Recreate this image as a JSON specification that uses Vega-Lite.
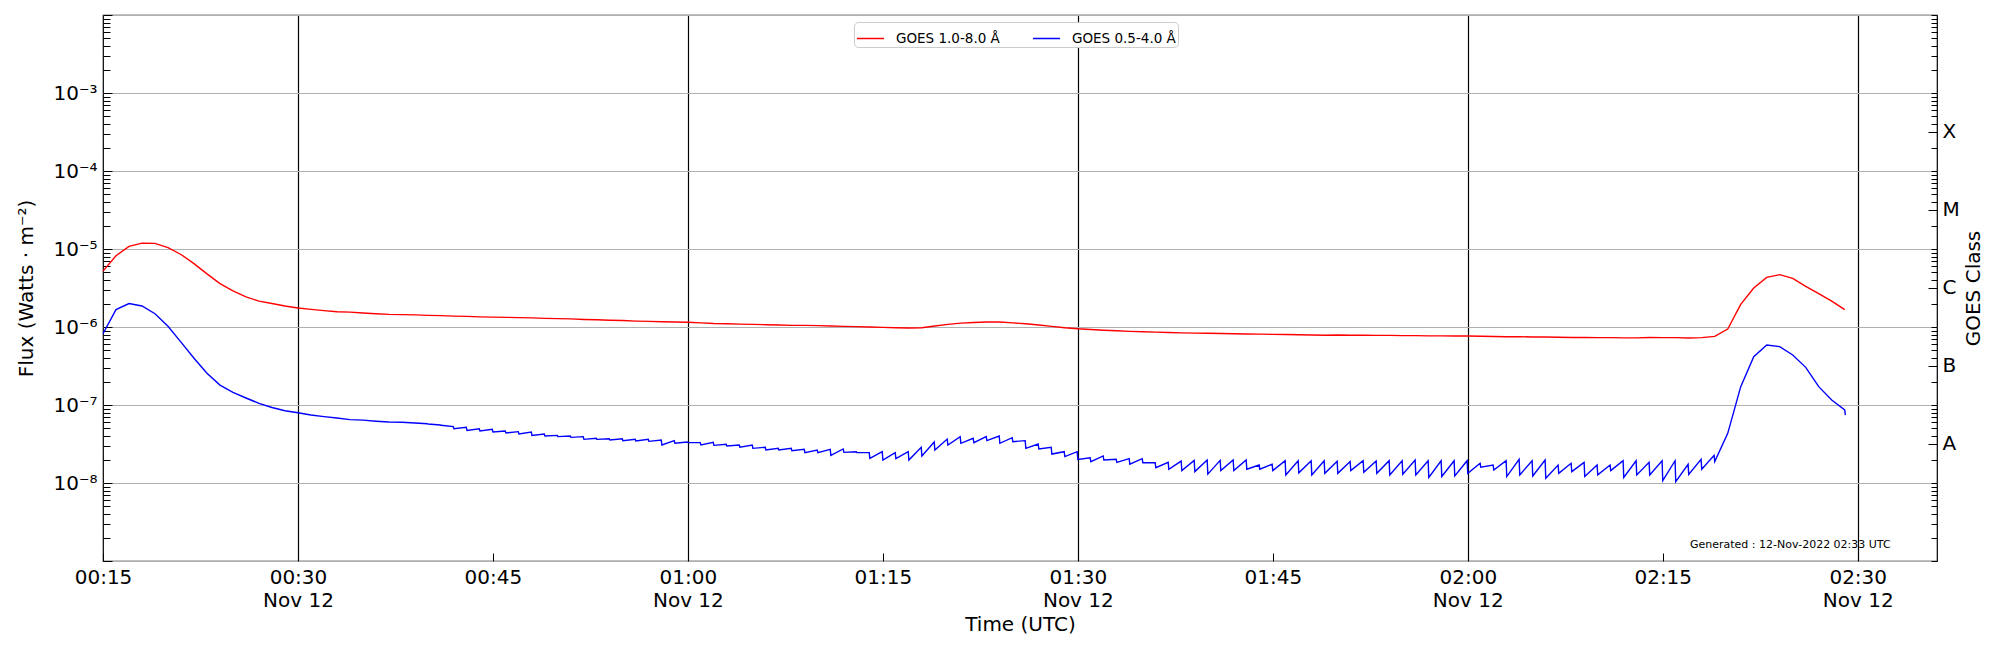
{
  "$schema": "https://vega.github.io/schema/vega-lite/v6.json",
  "width": 1834,
  "height": 546,
  "autosize": {"type": "none"},
  "padding": {"left": 103, "top": 15, "right": 63, "bottom": 89},
  "background": "white",
  "config": {
    "font": "DejaVu Sans",
    "view": {"stroke": "black", "strokeWidth": 1.2},
    "axis": {"domain": false, "labelColor": "black", "titleColor": "black", "tickColor": "black", "titleFontWeight": "normal", "labelFontSize": 20, "titleFontSize": 20, "labelOverlap": false, "labelFlush": false, "labelBound": false}
  },
  "layer": [
    {
      "data": {
        "values": [
          {"time": "2022-11-12T00:15:00Z", "flux": 5.2e-6, "channel": "GOES 1.0-8.0 Å"},
          {"time": "2022-11-12T00:16:00Z", "flux": 8.2e-6, "channel": "GOES 1.0-8.0 Å"},
          {"time": "2022-11-12T00:17:00Z", "flux": 1.08e-5, "channel": "GOES 1.0-8.0 Å"},
          {"time": "2022-11-12T00:18:00Z", "flux": 1.19e-5, "channel": "GOES 1.0-8.0 Å"},
          {"time": "2022-11-12T00:19:00Z", "flux": 1.18e-5, "channel": "GOES 1.0-8.0 Å"},
          {"time": "2022-11-12T00:20:00Z", "flux": 1.04e-5, "channel": "GOES 1.0-8.0 Å"},
          {"time": "2022-11-12T00:21:00Z", "flux": 8.5e-6, "channel": "GOES 1.0-8.0 Å"},
          {"time": "2022-11-12T00:22:00Z", "flux": 6.5e-6, "channel": "GOES 1.0-8.0 Å"},
          {"time": "2022-11-12T00:23:00Z", "flux": 4.8e-6, "channel": "GOES 1.0-8.0 Å"},
          {"time": "2022-11-12T00:24:00Z", "flux": 3.6e-6, "channel": "GOES 1.0-8.0 Å"},
          {"time": "2022-11-12T00:25:00Z", "flux": 2.9e-6, "channel": "GOES 1.0-8.0 Å"},
          {"time": "2022-11-12T00:26:00Z", "flux": 2.43e-6, "channel": "GOES 1.0-8.0 Å"},
          {"time": "2022-11-12T00:27:00Z", "flux": 2.15e-6, "channel": "GOES 1.0-8.0 Å"},
          {"time": "2022-11-12T00:28:00Z", "flux": 2.0e-6, "channel": "GOES 1.0-8.0 Å"},
          {"time": "2022-11-12T00:29:00Z", "flux": 1.86e-6, "channel": "GOES 1.0-8.0 Å"},
          {"time": "2022-11-12T00:30:00Z", "flux": 1.75e-6, "channel": "GOES 1.0-8.0 Å"},
          {"time": "2022-11-12T00:31:00Z", "flux": 1.68e-6, "channel": "GOES 1.0-8.0 Å"},
          {"time": "2022-11-12T00:32:00Z", "flux": 1.62e-6, "channel": "GOES 1.0-8.0 Å"},
          {"time": "2022-11-12T00:33:00Z", "flux": 1.57e-6, "channel": "GOES 1.0-8.0 Å"},
          {"time": "2022-11-12T00:34:00Z", "flux": 1.55e-6, "channel": "GOES 1.0-8.0 Å"},
          {"time": "2022-11-12T00:35:00Z", "flux": 1.51e-6, "channel": "GOES 1.0-8.0 Å"},
          {"time": "2022-11-12T00:36:00Z", "flux": 1.48e-6, "channel": "GOES 1.0-8.0 Å"},
          {"time": "2022-11-12T00:37:00Z", "flux": 1.45e-6, "channel": "GOES 1.0-8.0 Å"},
          {"time": "2022-11-12T00:38:00Z", "flux": 1.44e-6, "channel": "GOES 1.0-8.0 Å"},
          {"time": "2022-11-12T00:39:00Z", "flux": 1.43e-6, "channel": "GOES 1.0-8.0 Å"},
          {"time": "2022-11-12T00:40:00Z", "flux": 1.41e-6, "channel": "GOES 1.0-8.0 Å"},
          {"time": "2022-11-12T00:41:00Z", "flux": 1.40e-6, "channel": "GOES 1.0-8.0 Å"},
          {"time": "2022-11-12T00:42:00Z", "flux": 1.38e-6, "channel": "GOES 1.0-8.0 Å"},
          {"time": "2022-11-12T00:43:00Z", "flux": 1.37e-6, "channel": "GOES 1.0-8.0 Å"},
          {"time": "2022-11-12T00:44:00Z", "flux": 1.35e-6, "channel": "GOES 1.0-8.0 Å"},
          {"time": "2022-11-12T00:45:00Z", "flux": 1.34e-6, "channel": "GOES 1.0-8.0 Å"},
          {"time": "2022-11-12T00:46:00Z", "flux": 1.33e-6, "channel": "GOES 1.0-8.0 Å"},
          {"time": "2022-11-12T00:47:00Z", "flux": 1.32e-6, "channel": "GOES 1.0-8.0 Å"},
          {"time": "2022-11-12T00:48:00Z", "flux": 1.31e-6, "channel": "GOES 1.0-8.0 Å"},
          {"time": "2022-11-12T00:49:00Z", "flux": 1.29e-6, "channel": "GOES 1.0-8.0 Å"},
          {"time": "2022-11-12T00:50:00Z", "flux": 1.28e-6, "channel": "GOES 1.0-8.0 Å"},
          {"time": "2022-11-12T00:51:00Z", "flux": 1.27e-6, "channel": "GOES 1.0-8.0 Å"},
          {"time": "2022-11-12T00:52:00Z", "flux": 1.25e-6, "channel": "GOES 1.0-8.0 Å"},
          {"time": "2022-11-12T00:53:00Z", "flux": 1.24e-6, "channel": "GOES 1.0-8.0 Å"},
          {"time": "2022-11-12T00:54:00Z", "flux": 1.22e-6, "channel": "GOES 1.0-8.0 Å"},
          {"time": "2022-11-12T00:55:00Z", "flux": 1.21e-6, "channel": "GOES 1.0-8.0 Å"},
          {"time": "2022-11-12T00:56:00Z", "flux": 1.19e-6, "channel": "GOES 1.0-8.0 Å"},
          {"time": "2022-11-12T00:57:00Z", "flux": 1.18e-6, "channel": "GOES 1.0-8.0 Å"},
          {"time": "2022-11-12T00:58:00Z", "flux": 1.17e-6, "channel": "GOES 1.0-8.0 Å"},
          {"time": "2022-11-12T00:59:00Z", "flux": 1.16e-6, "channel": "GOES 1.0-8.0 Å"},
          {"time": "2022-11-12T01:00:00Z", "flux": 1.15e-6, "channel": "GOES 1.0-8.0 Å"},
          {"time": "2022-11-12T01:01:00Z", "flux": 1.13e-6, "channel": "GOES 1.0-8.0 Å"},
          {"time": "2022-11-12T01:02:00Z", "flux": 1.11e-6, "channel": "GOES 1.0-8.0 Å"},
          {"time": "2022-11-12T01:03:00Z", "flux": 1.10e-6, "channel": "GOES 1.0-8.0 Å"},
          {"time": "2022-11-12T01:04:00Z", "flux": 1.09e-6, "channel": "GOES 1.0-8.0 Å"},
          {"time": "2022-11-12T01:05:00Z", "flux": 1.08e-6, "channel": "GOES 1.0-8.0 Å"},
          {"time": "2022-11-12T01:06:00Z", "flux": 1.07e-6, "channel": "GOES 1.0-8.0 Å"},
          {"time": "2022-11-12T01:07:00Z", "flux": 1.06e-6, "channel": "GOES 1.0-8.0 Å"},
          {"time": "2022-11-12T01:08:00Z", "flux": 1.05e-6, "channel": "GOES 1.0-8.0 Å"},
          {"time": "2022-11-12T01:09:00Z", "flux": 1.05e-6, "channel": "GOES 1.0-8.0 Å"},
          {"time": "2022-11-12T01:10:00Z", "flux": 1.04e-6, "channel": "GOES 1.0-8.0 Å"},
          {"time": "2022-11-12T01:11:00Z", "flux": 1.03e-6, "channel": "GOES 1.0-8.0 Å"},
          {"time": "2022-11-12T01:12:00Z", "flux": 1.02e-6, "channel": "GOES 1.0-8.0 Å"},
          {"time": "2022-11-12T01:13:00Z", "flux": 1.01e-6, "channel": "GOES 1.0-8.0 Å"},
          {"time": "2022-11-12T01:14:00Z", "flux": 1.00e-6, "channel": "GOES 1.0-8.0 Å"},
          {"time": "2022-11-12T01:15:00Z", "flux": 9.9e-7, "channel": "GOES 1.0-8.0 Å"},
          {"time": "2022-11-12T01:16:00Z", "flux": 9.8e-7, "channel": "GOES 1.0-8.0 Å"},
          {"time": "2022-11-12T01:17:00Z", "flux": 9.7e-7, "channel": "GOES 1.0-8.0 Å"},
          {"time": "2022-11-12T01:18:00Z", "flux": 9.8e-7, "channel": "GOES 1.0-8.0 Å"},
          {"time": "2022-11-12T01:19:00Z", "flux": 1.03e-6, "channel": "GOES 1.0-8.0 Å"},
          {"time": "2022-11-12T01:20:00Z", "flux": 1.08e-6, "channel": "GOES 1.0-8.0 Å"},
          {"time": "2022-11-12T01:21:00Z", "flux": 1.12e-6, "channel": "GOES 1.0-8.0 Å"},
          {"time": "2022-11-12T01:22:00Z", "flux": 1.14e-6, "channel": "GOES 1.0-8.0 Å"},
          {"time": "2022-11-12T01:23:00Z", "flux": 1.16e-6, "channel": "GOES 1.0-8.0 Å"},
          {"time": "2022-11-12T01:24:00Z", "flux": 1.16e-6, "channel": "GOES 1.0-8.0 Å"},
          {"time": "2022-11-12T01:25:00Z", "flux": 1.13e-6, "channel": "GOES 1.0-8.0 Å"},
          {"time": "2022-11-12T01:26:00Z", "flux": 1.10e-6, "channel": "GOES 1.0-8.0 Å"},
          {"time": "2022-11-12T01:27:00Z", "flux": 1.06e-6, "channel": "GOES 1.0-8.0 Å"},
          {"time": "2022-11-12T01:28:00Z", "flux": 1.02e-6, "channel": "GOES 1.0-8.0 Å"},
          {"time": "2022-11-12T01:29:00Z", "flux": 9.8e-7, "channel": "GOES 1.0-8.0 Å"},
          {"time": "2022-11-12T01:30:00Z", "flux": 9.5e-7, "channel": "GOES 1.0-8.0 Å"},
          {"time": "2022-11-12T01:31:00Z", "flux": 9.3e-7, "channel": "GOES 1.0-8.0 Å"},
          {"time": "2022-11-12T01:32:00Z", "flux": 9.1e-7, "channel": "GOES 1.0-8.0 Å"},
          {"time": "2022-11-12T01:33:00Z", "flux": 8.95e-7, "channel": "GOES 1.0-8.0 Å"},
          {"time": "2022-11-12T01:34:00Z", "flux": 8.8e-7, "channel": "GOES 1.0-8.0 Å"},
          {"time": "2022-11-12T01:35:00Z", "flux": 8.7e-7, "channel": "GOES 1.0-8.0 Å"},
          {"time": "2022-11-12T01:36:00Z", "flux": 8.6e-7, "channel": "GOES 1.0-8.0 Å"},
          {"time": "2022-11-12T01:37:00Z", "flux": 8.5e-7, "channel": "GOES 1.0-8.0 Å"},
          {"time": "2022-11-12T01:38:00Z", "flux": 8.4e-7, "channel": "GOES 1.0-8.0 Å"},
          {"time": "2022-11-12T01:39:00Z", "flux": 8.35e-7, "channel": "GOES 1.0-8.0 Å"},
          {"time": "2022-11-12T01:40:00Z", "flux": 8.3e-7, "channel": "GOES 1.0-8.0 Å"},
          {"time": "2022-11-12T01:41:00Z", "flux": 8.25e-7, "channel": "GOES 1.0-8.0 Å"},
          {"time": "2022-11-12T01:42:00Z", "flux": 8.2e-7, "channel": "GOES 1.0-8.0 Å"},
          {"time": "2022-11-12T01:43:00Z", "flux": 8.15e-7, "channel": "GOES 1.0-8.0 Å"},
          {"time": "2022-11-12T01:44:00Z", "flux": 8.1e-7, "channel": "GOES 1.0-8.0 Å"},
          {"time": "2022-11-12T01:45:00Z", "flux": 8.05e-7, "channel": "GOES 1.0-8.0 Å"},
          {"time": "2022-11-12T01:46:00Z", "flux": 8.0e-7, "channel": "GOES 1.0-8.0 Å"},
          {"time": "2022-11-12T01:47:00Z", "flux": 7.95e-7, "channel": "GOES 1.0-8.0 Å"},
          {"time": "2022-11-12T01:48:00Z", "flux": 7.9e-7, "channel": "GOES 1.0-8.0 Å"},
          {"time": "2022-11-12T01:49:00Z", "flux": 7.85e-7, "channel": "GOES 1.0-8.0 Å"},
          {"time": "2022-11-12T01:50:00Z", "flux": 7.9e-7, "channel": "GOES 1.0-8.0 Å"},
          {"time": "2022-11-12T01:51:00Z", "flux": 7.85e-7, "channel": "GOES 1.0-8.0 Å"},
          {"time": "2022-11-12T01:52:00Z", "flux": 7.85e-7, "channel": "GOES 1.0-8.0 Å"},
          {"time": "2022-11-12T01:53:00Z", "flux": 7.8e-7, "channel": "GOES 1.0-8.0 Å"},
          {"time": "2022-11-12T01:54:00Z", "flux": 7.8e-7, "channel": "GOES 1.0-8.0 Å"},
          {"time": "2022-11-12T01:55:00Z", "flux": 7.75e-7, "channel": "GOES 1.0-8.0 Å"},
          {"time": "2022-11-12T01:56:00Z", "flux": 7.75e-7, "channel": "GOES 1.0-8.0 Å"},
          {"time": "2022-11-12T01:57:00Z", "flux": 7.7e-7, "channel": "GOES 1.0-8.0 Å"},
          {"time": "2022-11-12T01:58:00Z", "flux": 7.7e-7, "channel": "GOES 1.0-8.0 Å"},
          {"time": "2022-11-12T01:59:00Z", "flux": 7.65e-7, "channel": "GOES 1.0-8.0 Å"},
          {"time": "2022-11-12T02:00:00Z", "flux": 7.65e-7, "channel": "GOES 1.0-8.0 Å"},
          {"time": "2022-11-12T02:01:00Z", "flux": 7.6e-7, "channel": "GOES 1.0-8.0 Å"},
          {"time": "2022-11-12T02:02:00Z", "flux": 7.55e-7, "channel": "GOES 1.0-8.0 Å"},
          {"time": "2022-11-12T02:03:00Z", "flux": 7.5e-7, "channel": "GOES 1.0-8.0 Å"},
          {"time": "2022-11-12T02:04:00Z", "flux": 7.5e-7, "channel": "GOES 1.0-8.0 Å"},
          {"time": "2022-11-12T02:05:00Z", "flux": 7.45e-7, "channel": "GOES 1.0-8.0 Å"},
          {"time": "2022-11-12T02:06:00Z", "flux": 7.45e-7, "channel": "GOES 1.0-8.0 Å"},
          {"time": "2022-11-12T02:07:00Z", "flux": 7.4e-7, "channel": "GOES 1.0-8.0 Å"},
          {"time": "2022-11-12T02:08:00Z", "flux": 7.35e-7, "channel": "GOES 1.0-8.0 Å"},
          {"time": "2022-11-12T02:09:00Z", "flux": 7.35e-7, "channel": "GOES 1.0-8.0 Å"},
          {"time": "2022-11-12T02:10:00Z", "flux": 7.3e-7, "channel": "GOES 1.0-8.0 Å"},
          {"time": "2022-11-12T02:11:00Z", "flux": 7.3e-7, "channel": "GOES 1.0-8.0 Å"},
          {"time": "2022-11-12T02:12:00Z", "flux": 7.25e-7, "channel": "GOES 1.0-8.0 Å"},
          {"time": "2022-11-12T02:13:00Z", "flux": 7.25e-7, "channel": "GOES 1.0-8.0 Å"},
          {"time": "2022-11-12T02:14:00Z", "flux": 7.35e-7, "channel": "GOES 1.0-8.0 Å"},
          {"time": "2022-11-12T02:15:00Z", "flux": 7.3e-7, "channel": "GOES 1.0-8.0 Å"},
          {"time": "2022-11-12T02:16:00Z", "flux": 7.3e-7, "channel": "GOES 1.0-8.0 Å"},
          {"time": "2022-11-12T02:17:00Z", "flux": 7.23e-7, "channel": "GOES 1.0-8.0 Å"},
          {"time": "2022-11-12T02:18:00Z", "flux": 7.3e-7, "channel": "GOES 1.0-8.0 Å"},
          {"time": "2022-11-12T02:19:00Z", "flux": 7.58e-7, "channel": "GOES 1.0-8.0 Å"},
          {"time": "2022-11-12T02:20:00Z", "flux": 9.4e-7, "channel": "GOES 1.0-8.0 Å"},
          {"time": "2022-11-12T02:21:00Z", "flux": 1.95e-6, "channel": "GOES 1.0-8.0 Å"},
          {"time": "2022-11-12T02:22:00Z", "flux": 3.16e-6, "channel": "GOES 1.0-8.0 Å"},
          {"time": "2022-11-12T02:23:00Z", "flux": 4.33e-6, "channel": "GOES 1.0-8.0 Å"},
          {"time": "2022-11-12T02:24:00Z", "flux": 4.69e-6, "channel": "GOES 1.0-8.0 Å"},
          {"time": "2022-11-12T02:25:00Z", "flux": 4.2e-6, "channel": "GOES 1.0-8.0 Å"},
          {"time": "2022-11-12T02:26:00Z", "flux": 3.32e-6, "channel": "GOES 1.0-8.0 Å"},
          {"time": "2022-11-12T02:27:00Z", "flux": 2.67e-6, "channel": "GOES 1.0-8.0 Å"},
          {"time": "2022-11-12T02:28:00Z", "flux": 2.15e-6, "channel": "GOES 1.0-8.0 Å"},
          {"time": "2022-11-12T02:29:00Z", "flux": 1.67e-6, "channel": "GOES 1.0-8.0 Å"},

          {"time": "2022-11-12T00:15:00Z", "flux": 8.2e-7, "channel": "GOES 0.5-4.0 Å"},
          {"time": "2022-11-12T00:16:00Z", "flux": 1.67e-6, "channel": "GOES 0.5-4.0 Å"},
          {"time": "2022-11-12T00:17:00Z", "flux": 2.0e-6, "channel": "GOES 0.5-4.0 Å"},
          {"time": "2022-11-12T00:18:00Z", "flux": 1.86e-6, "channel": "GOES 0.5-4.0 Å"},
          {"time": "2022-11-12T00:19:00Z", "flux": 1.48e-6, "channel": "GOES 0.5-4.0 Å"},
          {"time": "2022-11-12T00:20:00Z", "flux": 1.02e-6, "channel": "GOES 0.5-4.0 Å"},
          {"time": "2022-11-12T00:21:00Z", "flux": 6.4e-7, "channel": "GOES 0.5-4.0 Å"},
          {"time": "2022-11-12T00:22:00Z", "flux": 3.97e-7, "channel": "GOES 0.5-4.0 Å"},
          {"time": "2022-11-12T00:23:00Z", "flux": 2.55e-7, "channel": "GOES 0.5-4.0 Å"},
          {"time": "2022-11-12T00:24:00Z", "flux": 1.8e-7, "channel": "GOES 0.5-4.0 Å"},
          {"time": "2022-11-12T00:25:00Z", "flux": 1.45e-7, "channel": "GOES 0.5-4.0 Å"},
          {"time": "2022-11-12T00:26:00Z", "flux": 1.23e-7, "channel": "GOES 0.5-4.0 Å"},
          {"time": "2022-11-12T00:27:00Z", "flux": 1.05e-7, "channel": "GOES 0.5-4.0 Å"},
          {"time": "2022-11-12T00:28:00Z", "flux": 9.3e-8, "channel": "GOES 0.5-4.0 Å"},
          {"time": "2022-11-12T00:29:00Z", "flux": 8.45e-8, "channel": "GOES 0.5-4.0 Å"},
          {"time": "2022-11-12T00:30:00Z", "flux": 7.97e-8, "channel": "GOES 0.5-4.0 Å"},
          {"time": "2022-11-12T00:31:00Z", "flux": 7.45e-8, "channel": "GOES 0.5-4.0 Å"},
          {"time": "2022-11-12T00:32:00Z", "flux": 7.1e-8, "channel": "GOES 0.5-4.0 Å"},
          {"time": "2022-11-12T00:33:00Z", "flux": 6.8e-8, "channel": "GOES 0.5-4.0 Å"},
          {"time": "2022-11-12T00:34:00Z", "flux": 6.5e-8, "channel": "GOES 0.5-4.0 Å"},
          {"time": "2022-11-12T00:35:00Z", "flux": 6.4e-8, "channel": "GOES 0.5-4.0 Å"},
          {"time": "2022-11-12T00:36:00Z", "flux": 6.2e-8, "channel": "GOES 0.5-4.0 Å"},
          {"time": "2022-11-12T00:37:00Z", "flux": 6.05e-8, "channel": "GOES 0.5-4.0 Å"},
          {"time": "2022-11-12T00:38:00Z", "flux": 6.0e-8, "channel": "GOES 0.5-4.0 Å"},
          {"time": "2022-11-12T00:39:00Z", "flux": 5.88e-8, "channel": "GOES 0.5-4.0 Å"},
          {"time": "2022-11-12T00:39:57Z", "flux": 5.76e-8, "channel": "GOES 0.5-4.0 Å"},
          {"time": "2022-11-12T00:40:00Z", "flux": 5.71e-8, "channel": "GOES 0.5-4.0 Å"},
          {"time": "2022-11-12T00:40:57Z", "flux": 5.54e-8, "channel": "GOES 0.5-4.0 Å"},
          {"time": "2022-11-12T00:41:00Z", "flux": 5.49e-8, "channel": "GOES 0.5-4.0 Å"},
          {"time": "2022-11-12T00:41:57Z", "flux": 5.28e-8, "channel": "GOES 0.5-4.0 Å"},
          {"time": "2022-11-12T00:42:00Z", "flux": 4.97e-8, "channel": "GOES 0.5-4.0 Å"},
          {"time": "2022-11-12T00:42:57Z", "flux": 5.17e-8, "channel": "GOES 0.5-4.0 Å"},
          {"time": "2022-11-12T00:43:00Z", "flux": 4.73e-8, "channel": "GOES 0.5-4.0 Å"},
          {"time": "2022-11-12T00:43:57Z", "flux": 4.97e-8, "channel": "GOES 0.5-4.0 Å"},
          {"time": "2022-11-12T00:44:00Z", "flux": 4.64e-8, "channel": "GOES 0.5-4.0 Å"},
          {"time": "2022-11-12T00:44:57Z", "flux": 4.88e-8, "channel": "GOES 0.5-4.0 Å"},
          {"time": "2022-11-12T00:45:00Z", "flux": 4.51e-8, "channel": "GOES 0.5-4.0 Å"},
          {"time": "2022-11-12T00:45:57Z", "flux": 4.64e-8, "channel": "GOES 0.5-4.0 Å"},
          {"time": "2022-11-12T00:46:00Z", "flux": 4.38e-8, "channel": "GOES 0.5-4.0 Å"},
          {"time": "2022-11-12T00:46:57Z", "flux": 4.55e-8, "channel": "GOES 0.5-4.0 Å"},
          {"time": "2022-11-12T00:47:00Z", "flux": 4.25e-8, "channel": "GOES 0.5-4.0 Å"},
          {"time": "2022-11-12T00:47:57Z", "flux": 4.51e-8, "channel": "GOES 0.5-4.0 Å"},
          {"time": "2022-11-12T00:48:00Z", "flux": 4.08e-8, "channel": "GOES 0.5-4.0 Å"},
          {"time": "2022-11-12T00:48:57Z", "flux": 4.25e-8, "channel": "GOES 0.5-4.0 Å"},
          {"time": "2022-11-12T00:49:00Z", "flux": 4.0e-8, "channel": "GOES 0.5-4.0 Å"},
          {"time": "2022-11-12T00:49:57Z", "flux": 4.08e-8, "channel": "GOES 0.5-4.0 Å"},
          {"time": "2022-11-12T00:50:00Z", "flux": 3.93e-8, "channel": "GOES 0.5-4.0 Å"},
          {"time": "2022-11-12T00:50:57Z", "flux": 4.0e-8, "channel": "GOES 0.5-4.0 Å"},
          {"time": "2022-11-12T00:51:00Z", "flux": 3.85e-8, "channel": "GOES 0.5-4.0 Å"},
          {"time": "2022-11-12T00:51:57Z", "flux": 3.93e-8, "channel": "GOES 0.5-4.0 Å"},
          {"time": "2022-11-12T00:52:00Z", "flux": 3.63e-8, "channel": "GOES 0.5-4.0 Å"},
          {"time": "2022-11-12T00:52:57Z", "flux": 3.74e-8, "channel": "GOES 0.5-4.0 Å"},
          {"time": "2022-11-12T00:53:00Z", "flux": 3.63e-8, "channel": "GOES 0.5-4.0 Å"},
          {"time": "2022-11-12T00:53:57Z", "flux": 3.70e-8, "channel": "GOES 0.5-4.0 Å"},
          {"time": "2022-11-12T00:54:00Z", "flux": 3.56e-8, "channel": "GOES 0.5-4.0 Å"},
          {"time": "2022-11-12T00:54:57Z", "flux": 3.70e-8, "channel": "GOES 0.5-4.0 Å"},
          {"time": "2022-11-12T00:55:00Z", "flux": 3.49e-8, "channel": "GOES 0.5-4.0 Å"},
          {"time": "2022-11-12T00:55:57Z", "flux": 3.63e-8, "channel": "GOES 0.5-4.0 Å"},
          {"time": "2022-11-12T00:56:00Z", "flux": 3.46e-8, "channel": "GOES 0.5-4.0 Å"},
          {"time": "2022-11-12T00:56:57Z", "flux": 3.63e-8, "channel": "GOES 0.5-4.0 Å"},
          {"time": "2022-11-12T00:57:00Z", "flux": 3.42e-8, "channel": "GOES 0.5-4.0 Å"},
          {"time": "2022-11-12T00:57:57Z", "flux": 3.56e-8, "channel": "GOES 0.5-4.0 Å"},
          {"time": "2022-11-12T00:58:00Z", "flux": 3.07e-8, "channel": "GOES 0.5-4.0 Å"},
          {"time": "2022-11-12T00:58:57Z", "flux": 3.49e-8, "channel": "GOES 0.5-4.0 Å"},
          {"time": "2022-11-12T00:59:00Z", "flux": 3.23e-8, "channel": "GOES 0.5-4.0 Å"},
          {"time": "2022-11-12T00:59:57Z", "flux": 3.36e-8, "channel": "GOES 0.5-4.0 Å"},
          {"time": "2022-11-12T01:00:00Z", "flux": 3.29e-8, "channel": "GOES 0.5-4.0 Å"},
          {"time": "2022-11-12T01:00:57Z", "flux": 3.29e-8, "channel": "GOES 0.5-4.0 Å"},
          {"time": "2022-11-12T01:01:00Z", "flux": 3.07e-8, "channel": "GOES 0.5-4.0 Å"},
          {"time": "2022-11-12T01:01:57Z", "flux": 3.32e-8, "channel": "GOES 0.5-4.0 Å"},
          {"time": "2022-11-12T01:02:00Z", "flux": 3.04e-8, "channel": "GOES 0.5-4.0 Å"},
          {"time": "2022-11-12T01:02:57Z", "flux": 3.13e-8, "channel": "GOES 0.5-4.0 Å"},
          {"time": "2022-11-12T01:03:00Z", "flux": 2.98e-8, "channel": "GOES 0.5-4.0 Å"},
          {"time": "2022-11-12T01:03:57Z", "flux": 3.07e-8, "channel": "GOES 0.5-4.0 Å"},
          {"time": "2022-11-12T01:04:00Z", "flux": 2.87e-8, "channel": "GOES 0.5-4.0 Å"},
          {"time": "2022-11-12T01:04:57Z", "flux": 3.07e-8, "channel": "GOES 0.5-4.0 Å"},
          {"time": "2022-11-12T01:05:00Z", "flux": 2.78e-8, "channel": "GOES 0.5-4.0 Å"},
          {"time": "2022-11-12T01:05:57Z", "flux": 2.87e-8, "channel": "GOES 0.5-4.0 Å"},
          {"time": "2022-11-12T01:06:00Z", "flux": 2.65e-8, "channel": "GOES 0.5-4.0 Å"},
          {"time": "2022-11-12T01:06:57Z", "flux": 2.78e-8, "channel": "GOES 0.5-4.0 Å"},
          {"time": "2022-11-12T01:07:00Z", "flux": 2.65e-8, "channel": "GOES 0.5-4.0 Å"},
          {"time": "2022-11-12T01:07:57Z", "flux": 2.78e-8, "channel": "GOES 0.5-4.0 Å"},
          {"time": "2022-11-12T01:08:00Z", "flux": 2.60e-8, "channel": "GOES 0.5-4.0 Å"},
          {"time": "2022-11-12T01:08:57Z", "flux": 2.70e-8, "channel": "GOES 0.5-4.0 Å"},
          {"time": "2022-11-12T01:09:00Z", "flux": 2.45e-8, "channel": "GOES 0.5-4.0 Å"},
          {"time": "2022-11-12T01:09:57Z", "flux": 2.65e-8, "channel": "GOES 0.5-4.0 Å"},
          {"time": "2022-11-12T01:10:00Z", "flux": 2.45e-8, "channel": "GOES 0.5-4.0 Å"},
          {"time": "2022-11-12T01:10:57Z", "flux": 2.70e-8, "channel": "GOES 0.5-4.0 Å"},
          {"time": "2022-11-12T01:11:00Z", "flux": 2.26e-8, "channel": "GOES 0.5-4.0 Å"},
          {"time": "2022-11-12T01:11:57Z", "flux": 2.73e-8, "channel": "GOES 0.5-4.0 Å"},
          {"time": "2022-11-12T01:12:00Z", "flux": 2.47e-8, "channel": "GOES 0.5-4.0 Å"},
          {"time": "2022-11-12T01:12:57Z", "flux": 2.52e-8, "channel": "GOES 0.5-4.0 Å"},
          {"time": "2022-11-12T01:13:00Z", "flux": 2.45e-8, "channel": "GOES 0.5-4.0 Å"},
          {"time": "2022-11-12T01:13:57Z", "flux": 2.45e-8, "channel": "GOES 0.5-4.0 Å"},
          {"time": "2022-11-12T01:14:00Z", "flux": 2.07e-8, "channel": "GOES 0.5-4.0 Å"},
          {"time": "2022-11-12T01:14:57Z", "flux": 2.52e-8, "channel": "GOES 0.5-4.0 Å"},
          {"time": "2022-11-12T01:15:00Z", "flux": 1.97e-8, "channel": "GOES 0.5-4.0 Å"},
          {"time": "2022-11-12T01:15:57Z", "flux": 2.45e-8, "channel": "GOES 0.5-4.0 Å"},
          {"time": "2022-11-12T01:16:00Z", "flux": 2.05e-8, "channel": "GOES 0.5-4.0 Å"},
          {"time": "2022-11-12T01:16:57Z", "flux": 2.52e-8, "channel": "GOES 0.5-4.0 Å"},
          {"time": "2022-11-12T01:17:00Z", "flux": 1.97e-8, "channel": "GOES 0.5-4.0 Å"},
          {"time": "2022-11-12T01:17:57Z", "flux": 2.87e-8, "channel": "GOES 0.5-4.0 Å"},
          {"time": "2022-11-12T01:18:00Z", "flux": 2.22e-8, "channel": "GOES 0.5-4.0 Å"},
          {"time": "2022-11-12T01:18:57Z", "flux": 3.36e-8, "channel": "GOES 0.5-4.0 Å"},
          {"time": "2022-11-12T01:19:00Z", "flux": 2.65e-8, "channel": "GOES 0.5-4.0 Å"},
          {"time": "2022-11-12T01:19:57Z", "flux": 3.66e-8, "channel": "GOES 0.5-4.0 Å"},
          {"time": "2022-11-12T01:20:00Z", "flux": 3.07e-8, "channel": "GOES 0.5-4.0 Å"},
          {"time": "2022-11-12T01:20:57Z", "flux": 3.93e-8, "channel": "GOES 0.5-4.0 Å"},
          {"time": "2022-11-12T01:21:00Z", "flux": 3.23e-8, "channel": "GOES 0.5-4.0 Å"},
          {"time": "2022-11-12T01:21:57Z", "flux": 3.74e-8, "channel": "GOES 0.5-4.0 Å"},
          {"time": "2022-11-12T01:22:00Z", "flux": 3.29e-8, "channel": "GOES 0.5-4.0 Å"},
          {"time": "2022-11-12T01:22:57Z", "flux": 3.93e-8, "channel": "GOES 0.5-4.0 Å"},
          {"time": "2022-11-12T01:23:00Z", "flux": 3.49e-8, "channel": "GOES 0.5-4.0 Å"},
          {"time": "2022-11-12T01:23:57Z", "flux": 4.0e-8, "channel": "GOES 0.5-4.0 Å"},
          {"time": "2022-11-12T01:24:00Z", "flux": 3.23e-8, "channel": "GOES 0.5-4.0 Å"},
          {"time": "2022-11-12T01:24:57Z", "flux": 3.81e-8, "channel": "GOES 0.5-4.0 Å"},
          {"time": "2022-11-12T01:25:00Z", "flux": 3.39e-8, "channel": "GOES 0.5-4.0 Å"},
          {"time": "2022-11-12T01:25:57Z", "flux": 3.49e-8, "channel": "GOES 0.5-4.0 Å"},
          {"time": "2022-11-12T01:26:00Z", "flux": 2.78e-8, "channel": "GOES 0.5-4.0 Å"},
          {"time": "2022-11-12T01:26:57Z", "flux": 3.16e-8, "channel": "GOES 0.5-4.0 Å"},
          {"time": "2022-11-12T01:27:00Z", "flux": 2.73e-8, "channel": "GOES 0.5-4.0 Å"},
          {"time": "2022-11-12T01:27:57Z", "flux": 2.87e-8, "channel": "GOES 0.5-4.0 Å"},
          {"time": "2022-11-12T01:28:00Z", "flux": 2.35e-8, "channel": "GOES 0.5-4.0 Å"},
          {"time": "2022-11-12T01:28:57Z", "flux": 2.52e-8, "channel": "GOES 0.5-4.0 Å"},
          {"time": "2022-11-12T01:29:00Z", "flux": 2.18e-8, "channel": "GOES 0.5-4.0 Å"},
          {"time": "2022-11-12T01:29:57Z", "flux": 2.52e-8, "channel": "GOES 0.5-4.0 Å"},
          {"time": "2022-11-12T01:30:00Z", "flux": 2.01e-8, "channel": "GOES 0.5-4.0 Å"},
          {"time": "2022-11-12T01:30:57Z", "flux": 2.11e-8, "channel": "GOES 0.5-4.0 Å"},
          {"time": "2022-11-12T01:31:00Z", "flux": 1.88e-8, "channel": "GOES 0.5-4.0 Å"},
          {"time": "2022-11-12T01:31:57Z", "flux": 2.22e-8, "channel": "GOES 0.5-4.0 Å"},
          {"time": "2022-11-12T01:32:00Z", "flux": 1.97e-8, "channel": "GOES 0.5-4.0 Å"},
          {"time": "2022-11-12T01:32:57Z", "flux": 2.01e-8, "channel": "GOES 0.5-4.0 Å"},
          {"time": "2022-11-12T01:33:00Z", "flux": 1.84e-8, "channel": "GOES 0.5-4.0 Å"},
          {"time": "2022-11-12T01:33:57Z", "flux": 2.05e-8, "channel": "GOES 0.5-4.0 Å"},
          {"time": "2022-11-12T01:34:00Z", "flux": 1.74e-8, "channel": "GOES 0.5-4.0 Å"},
          {"time": "2022-11-12T01:34:57Z", "flux": 2.05e-8, "channel": "GOES 0.5-4.0 Å"},
          {"time": "2022-11-12T01:35:00Z", "flux": 1.82e-8, "channel": "GOES 0.5-4.0 Å"},
          {"time": "2022-11-12T01:35:57Z", "flux": 1.82e-8, "channel": "GOES 0.5-4.0 Å"},
          {"time": "2022-11-12T01:36:00Z", "flux": 1.57e-8, "channel": "GOES 0.5-4.0 Å"},
          {"time": "2022-11-12T01:36:57Z", "flux": 1.84e-8, "channel": "GOES 0.5-4.0 Å"},
          {"time": "2022-11-12T01:37:00Z", "flux": 1.50e-8, "channel": "GOES 0.5-4.0 Å"},
          {"time": "2022-11-12T01:37:57Z", "flux": 1.91e-8, "channel": "GOES 0.5-4.0 Å"},
          {"time": "2022-11-12T01:38:00Z", "flux": 1.44e-8, "channel": "GOES 0.5-4.0 Å"},
          {"time": "2022-11-12T01:38:57Z", "flux": 1.95e-8, "channel": "GOES 0.5-4.0 Å"},
          {"time": "2022-11-12T01:39:00Z", "flux": 1.40e-8, "channel": "GOES 0.5-4.0 Å"},
          {"time": "2022-11-12T01:39:57Z", "flux": 1.97e-8, "channel": "GOES 0.5-4.0 Å"},
          {"time": "2022-11-12T01:40:00Z", "flux": 1.30e-8, "channel": "GOES 0.5-4.0 Å"},
          {"time": "2022-11-12T01:40:57Z", "flux": 1.95e-8, "channel": "GOES 0.5-4.0 Å"},
          {"time": "2022-11-12T01:41:00Z", "flux": 1.44e-8, "channel": "GOES 0.5-4.0 Å"},
          {"time": "2022-11-12T01:41:57Z", "flux": 1.97e-8, "channel": "GOES 0.5-4.0 Å"},
          {"time": "2022-11-12T01:42:00Z", "flux": 1.44e-8, "channel": "GOES 0.5-4.0 Å"},
          {"time": "2022-11-12T01:42:57Z", "flux": 1.97e-8, "channel": "GOES 0.5-4.0 Å"},
          {"time": "2022-11-12T01:43:00Z", "flux": 1.50e-8, "channel": "GOES 0.5-4.0 Å"},
          {"time": "2022-11-12T01:43:57Z", "flux": 1.70e-8, "channel": "GOES 0.5-4.0 Å"},
          {"time": "2022-11-12T01:44:00Z", "flux": 1.50e-8, "channel": "GOES 0.5-4.0 Å"},
          {"time": "2022-11-12T01:44:57Z", "flux": 1.74e-8, "channel": "GOES 0.5-4.0 Å"},
          {"time": "2022-11-12T01:45:00Z", "flux": 1.44e-8, "channel": "GOES 0.5-4.0 Å"},
          {"time": "2022-11-12T01:45:57Z", "flux": 1.93e-8, "channel": "GOES 0.5-4.0 Å"},
          {"time": "2022-11-12T01:46:00Z", "flux": 1.27e-8, "channel": "GOES 0.5-4.0 Å"},
          {"time": "2022-11-12T01:46:57Z", "flux": 1.93e-8, "channel": "GOES 0.5-4.0 Å"},
          {"time": "2022-11-12T01:47:00Z", "flux": 1.35e-8, "channel": "GOES 0.5-4.0 Å"},
          {"time": "2022-11-12T01:47:57Z", "flux": 1.93e-8, "channel": "GOES 0.5-4.0 Å"},
          {"time": "2022-11-12T01:48:00Z", "flux": 1.27e-8, "channel": "GOES 0.5-4.0 Å"},
          {"time": "2022-11-12T01:48:57Z", "flux": 1.93e-8, "channel": "GOES 0.5-4.0 Å"},
          {"time": "2022-11-12T01:49:00Z", "flux": 1.33e-8, "channel": "GOES 0.5-4.0 Å"},
          {"time": "2022-11-12T01:49:57Z", "flux": 1.90e-8, "channel": "GOES 0.5-4.0 Å"},
          {"time": "2022-11-12T01:50:00Z", "flux": 1.33e-8, "channel": "GOES 0.5-4.0 Å"},
          {"time": "2022-11-12T01:50:57Z", "flux": 1.88e-8, "channel": "GOES 0.5-4.0 Å"},
          {"time": "2022-11-12T01:51:00Z", "flux": 1.44e-8, "channel": "GOES 0.5-4.0 Å"},
          {"time": "2022-11-12T01:51:57Z", "flux": 1.93e-8, "channel": "GOES 0.5-4.0 Å"},
          {"time": "2022-11-12T01:52:00Z", "flux": 1.37e-8, "channel": "GOES 0.5-4.0 Å"},
          {"time": "2022-11-12T01:52:57Z", "flux": 1.91e-8, "channel": "GOES 0.5-4.0 Å"},
          {"time": "2022-11-12T01:53:00Z", "flux": 1.33e-8, "channel": "GOES 0.5-4.0 Å"},
          {"time": "2022-11-12T01:53:57Z", "flux": 1.93e-8, "channel": "GOES 0.5-4.0 Å"},
          {"time": "2022-11-12T01:54:00Z", "flux": 1.27e-8, "channel": "GOES 0.5-4.0 Å"},
          {"time": "2022-11-12T01:54:57Z", "flux": 1.93e-8, "channel": "GOES 0.5-4.0 Å"},
          {"time": "2022-11-12T01:55:00Z", "flux": 1.30e-8, "channel": "GOES 0.5-4.0 Å"},
          {"time": "2022-11-12T01:55:57Z", "flux": 1.97e-8, "channel": "GOES 0.5-4.0 Å"},
          {"time": "2022-11-12T01:56:00Z", "flux": 1.27e-8, "channel": "GOES 0.5-4.0 Å"},
          {"time": "2022-11-12T01:56:57Z", "flux": 1.93e-8, "channel": "GOES 0.5-4.0 Å"},
          {"time": "2022-11-12T01:57:00Z", "flux": 1.18e-8, "channel": "GOES 0.5-4.0 Å"},
          {"time": "2022-11-12T01:57:57Z", "flux": 1.93e-8, "channel": "GOES 0.5-4.0 Å"},
          {"time": "2022-11-12T01:58:00Z", "flux": 1.21e-8, "channel": "GOES 0.5-4.0 Å"},
          {"time": "2022-11-12T01:58:57Z", "flux": 1.93e-8, "channel": "GOES 0.5-4.0 Å"},
          {"time": "2022-11-12T01:59:00Z", "flux": 1.23e-8, "channel": "GOES 0.5-4.0 Å"},
          {"time": "2022-11-12T01:59:57Z", "flux": 1.93e-8, "channel": "GOES 0.5-4.0 Å"},
          {"time": "2022-11-12T02:00:00Z", "flux": 1.33e-8, "channel": "GOES 0.5-4.0 Å"},
          {"time": "2022-11-12T02:00:57Z", "flux": 1.79e-8, "channel": "GOES 0.5-4.0 Å"},
          {"time": "2022-11-12T02:01:00Z", "flux": 1.59e-8, "channel": "GOES 0.5-4.0 Å"},
          {"time": "2022-11-12T02:01:57Z", "flux": 1.70e-8, "channel": "GOES 0.5-4.0 Å"},
          {"time": "2022-11-12T02:02:00Z", "flux": 1.47e-8, "channel": "GOES 0.5-4.0 Å"},
          {"time": "2022-11-12T02:02:57Z", "flux": 1.93e-8, "channel": "GOES 0.5-4.0 Å"},
          {"time": "2022-11-12T02:03:00Z", "flux": 1.21e-8, "channel": "GOES 0.5-4.0 Å"},
          {"time": "2022-11-12T02:03:57Z", "flux": 2.01e-8, "channel": "GOES 0.5-4.0 Å"},
          {"time": "2022-11-12T02:04:00Z", "flux": 1.27e-8, "channel": "GOES 0.5-4.0 Å"},
          {"time": "2022-11-12T02:04:57Z", "flux": 1.93e-8, "channel": "GOES 0.5-4.0 Å"},
          {"time": "2022-11-12T02:05:00Z", "flux": 1.23e-8, "channel": "GOES 0.5-4.0 Å"},
          {"time": "2022-11-12T02:05:57Z", "flux": 1.97e-8, "channel": "GOES 0.5-4.0 Å"},
          {"time": "2022-11-12T02:06:00Z", "flux": 1.15e-8, "channel": "GOES 0.5-4.0 Å"},
          {"time": "2022-11-12T02:06:57Z", "flux": 1.70e-8, "channel": "GOES 0.5-4.0 Å"},
          {"time": "2022-11-12T02:07:00Z", "flux": 1.33e-8, "channel": "GOES 0.5-4.0 Å"},
          {"time": "2022-11-12T02:07:57Z", "flux": 1.79e-8, "channel": "GOES 0.5-4.0 Å"},
          {"time": "2022-11-12T02:08:00Z", "flux": 1.40e-8, "channel": "GOES 0.5-4.0 Å"},
          {"time": "2022-11-12T02:08:57Z", "flux": 1.84e-8, "channel": "GOES 0.5-4.0 Å"},
          {"time": "2022-11-12T02:09:00Z", "flux": 1.21e-8, "channel": "GOES 0.5-4.0 Å"},
          {"time": "2022-11-12T02:09:57Z", "flux": 1.70e-8, "channel": "GOES 0.5-4.0 Å"},
          {"time": "2022-11-12T02:10:00Z", "flux": 1.27e-8, "channel": "GOES 0.5-4.0 Å"},
          {"time": "2022-11-12T02:10:57Z", "flux": 1.70e-8, "channel": "GOES 0.5-4.0 Å"},
          {"time": "2022-11-12T02:11:00Z", "flux": 1.44e-8, "channel": "GOES 0.5-4.0 Å"},
          {"time": "2022-11-12T02:11:57Z", "flux": 1.93e-8, "channel": "GOES 0.5-4.0 Å"},
          {"time": "2022-11-12T02:12:00Z", "flux": 1.18e-8, "channel": "GOES 0.5-4.0 Å"},
          {"time": "2022-11-12T02:12:57Z", "flux": 1.93e-8, "channel": "GOES 0.5-4.0 Å"},
          {"time": "2022-11-12T02:13:00Z", "flux": 1.27e-8, "channel": "GOES 0.5-4.0 Å"},
          {"time": "2022-11-12T02:13:57Z", "flux": 1.84e-8, "channel": "GOES 0.5-4.0 Å"},
          {"time": "2022-11-12T02:14:00Z", "flux": 1.27e-8, "channel": "GOES 0.5-4.0 Å"},
          {"time": "2022-11-12T02:14:57Z", "flux": 1.93e-8, "channel": "GOES 0.5-4.0 Å"},
          {"time": "2022-11-12T02:15:00Z", "flux": 1.07e-8, "channel": "GOES 0.5-4.0 Å"},
          {"time": "2022-11-12T02:15:57Z", "flux": 1.93e-8, "channel": "GOES 0.5-4.0 Å"},
          {"time": "2022-11-12T02:16:00Z", "flux": 1.04e-8, "channel": "GOES 0.5-4.0 Å"},
          {"time": "2022-11-12T02:16:57Z", "flux": 1.74e-8, "channel": "GOES 0.5-4.0 Å"},
          {"time": "2022-11-12T02:17:00Z", "flux": 1.29e-8, "channel": "GOES 0.5-4.0 Å"},
          {"time": "2022-11-12T02:17:57Z", "flux": 2.01e-8, "channel": "GOES 0.5-4.0 Å"},
          {"time": "2022-11-12T02:18:00Z", "flux": 1.50e-8, "channel": "GOES 0.5-4.0 Å"},
          {"time": "2022-11-12T02:18:57Z", "flux": 2.26e-8, "channel": "GOES 0.5-4.0 Å"},
          {"time": "2022-11-12T02:19:00Z", "flux": 1.88e-8, "channel": "GOES 0.5-4.0 Å"},
          {"time": "2022-11-12T02:20:00Z", "flux": 4.33e-8, "channel": "GOES 0.5-4.0 Å"},
          {"time": "2022-11-12T02:21:00Z", "flux": 1.72e-7, "channel": "GOES 0.5-4.0 Å"},
          {"time": "2022-11-12T02:22:00Z", "flux": 4.17e-7, "channel": "GOES 0.5-4.0 Å"},
          {"time": "2022-11-12T02:23:00Z", "flux": 5.88e-7, "channel": "GOES 0.5-4.0 Å"},
          {"time": "2022-11-12T02:24:00Z", "flux": 5.6e-7, "channel": "GOES 0.5-4.0 Å"},
          {"time": "2022-11-12T02:25:00Z", "flux": 4.38e-7, "channel": "GOES 0.5-4.0 Å"},
          {"time": "2022-11-12T02:26:00Z", "flux": 3.04e-7, "channel": "GOES 0.5-4.0 Å"},
          {"time": "2022-11-12T02:27:00Z", "flux": 1.72e-7, "channel": "GOES 0.5-4.0 Å"},
          {"time": "2022-11-12T02:28:00Z", "flux": 1.16e-7, "channel": "GOES 0.5-4.0 Å"},
          {"time": "2022-11-12T02:29:00Z", "flux": 8.63e-8, "channel": "GOES 0.5-4.0 Å"},
          {"time": "2022-11-12T02:29:03Z", "flux": 7.4e-8, "channel": "GOES 0.5-4.0 Å"}
        ]
      },
      "mark": {"type": "line", "strokeWidth": 1.4},
      "encoding": {
        "x": {
          "field": "time",
          "type": "temporal",
          "scale": {
            "type": "utc",
            "domain": [
              {"year": 2022, "month": 11, "date": 12, "hours": 0, "minutes": 15, "utc": true},
              {"year": 2022, "month": 11, "date": 12, "hours": 2, "minutes": 36, "seconds": 6, "utc": true}
            ]
          },
          "axis": {
            "title": "Time (UTC)",
            "titlePadding": 4,
            "values": [
              {"year": 2022, "month": 11, "date": 12, "hours": 0, "minutes": 15, "utc": true},
              {"year": 2022, "month": 11, "date": 12, "hours": 0, "minutes": 30, "utc": true},
              {"year": 2022, "month": 11, "date": 12, "hours": 0, "minutes": 45, "utc": true},
              {"year": 2022, "month": 11, "date": 12, "hours": 1, "minutes": 0, "utc": true},
              {"year": 2022, "month": 11, "date": 12, "hours": 1, "minutes": 15, "utc": true},
              {"year": 2022, "month": 11, "date": 12, "hours": 1, "minutes": 30, "utc": true},
              {"year": 2022, "month": 11, "date": 12, "hours": 1, "minutes": 45, "utc": true},
              {"year": 2022, "month": 11, "date": 12, "hours": 2, "minutes": 0, "utc": true},
              {"year": 2022, "month": 11, "date": 12, "hours": 2, "minutes": 15, "utc": true},
              {"year": 2022, "month": 11, "date": 12, "hours": 2, "minutes": 30, "utc": true}
            ],
            "labelExpr": "utcminutes(datum.value) % 30 == 0 ? [utcFormat(datum.value, '%H:%M'), utcFormat(datum.value, '%b %d')] : utcFormat(datum.value, '%H:%M')",
            "labelLineHeight": 23,
            "labelPadding": 14,
            "tickSize": -8,
            "grid": true,
            "gridColor": "black",
            "gridWidth": 1.2,
            "gridOpacity": {"condition": {"test": "utcminutes(datum.value) % 30 == 0", "value": 1}, "value": 0}
          }
        },
        "y": {
          "field": "flux",
          "type": "quantitative",
          "scale": {"type": "log", "domain": [1e-9, 1e-2]},
          "axis": {
            "orient": "left",
            "title": "Flux (Watts · m⁻²)",
            "titlePadding": 16,
            "values": [1e-9, 2e-9, 3e-9, 4e-9, 5e-9, 6e-9, 7e-9, 8e-9, 9e-9,
                       1e-8, 2e-8, 3e-8, 4e-8, 5e-8, 6e-8, 7e-8, 8e-8, 9e-8,
                       1e-7, 2e-7, 3e-7, 4e-7, 5e-7, 6e-7, 7e-7, 8e-7, 9e-7,
                       1e-6, 2e-6, 3e-6, 4e-6, 5e-6, 6e-6, 7e-6, 8e-6, 9e-6,
                       1e-5, 2e-5, 3e-5, 4e-5, 5e-5, 6e-5, 7e-5, 8e-5, 9e-5,
                       1e-4, 2e-4, 3e-4, 4e-4, 5e-4, 6e-4, 7e-4, 8e-4, 9e-4,
                       1e-3, 2e-3, 3e-3, 4e-3, 5e-3, 6e-3, 7e-3, 8e-3, 9e-3, 1e-2],
            "labelExpr": "abs(log(datum.value)/LN10 - round(log(datum.value)/LN10)) < 0.01 && datum.value > 5e-9 && datum.value < 5e-3 ? '10⁻' + ['⁰','¹','²','³','⁴','⁵','⁶','⁷','⁸','⁹'][-round(log(datum.value)/LN10)] : ''",
            "labelPadding": 15,
            "tickSize": {"condition": {"test": "abs(log(datum.value)/LN10 - round(log(datum.value)/LN10)) < 0.01", "value": -9}, "value": -7},
            "grid": true,
            "gridColor": "#b0b0b0",
            "gridWidth": 1,
            "gridOpacity": {"condition": {"test": "abs(log(datum.value)/LN10 - round(log(datum.value)/LN10)) < 0.01", "value": 1}, "value": 0}
          }
        },
        "color": {
          "field": "channel",
          "type": "nominal",
          "scale": {"domain": ["GOES 1.0-8.0 Å", "GOES 0.5-4.0 Å"], "range": ["#ff0000", "#0000ff"]},
          "legend": {
            "title": null,
            "orient": "none",
            "legendX": 751,
            "legendY": 7,
            "direction": "horizontal",
            "columns": 2,
            "columnPadding": 30,
            "symbolType": "stroke",
            "symbolSize": 729,
            "symbolStrokeWidth": 1.5,
            "labelFontSize": 13.5,
            "labelColor": "black",
            "labelOffset": 11,
            "labelLimit": 400,
            "padding": 2,
            "strokeColor": "#cccccc",
            "fillColor": "white",
            "cornerRadius": 4
          }
        }
      }
    },
    {
      "data": {"values": [{"note": "Generated : 12-Nov-2022 02:33 UTC"}]},
      "mark": {"type": "text", "align": "right", "baseline": "alphabetic", "fontSize": 11, "color": "black"},
      "encoding": {
        "x": {"datum": {"year": 2022, "month": 11, "date": 12, "hours": 2, "minutes": 32, "seconds": 32, "utc": true}, "type": "temporal"},
        "y": {
          "datum": 1.48e-9,
          "type": "quantitative",
          "scale": {"type": "log", "domain": [1e-9, 1e-2]},
          "axis": {
            "orient": "right",
            "title": "GOES Class",
            "titleAngle": 270,
            "titleBaseline": "top",
            "titlePadding": 4,
            "values": [1e-9, 2e-9, 3e-9, 4e-9, 5e-9, 6e-9, 7e-9, 8e-9, 9e-9,
                       1e-8, 2e-8, 3.1623e-8, 4e-8, 5e-8, 6e-8, 7e-8, 8e-8, 9e-8,
                       1e-7, 2e-7, 3.1623e-7, 4e-7, 5e-7, 6e-7, 7e-7, 8e-7, 9e-7,
                       1e-6, 2e-6, 3.1623e-6, 4e-6, 5e-6, 6e-6, 7e-6, 8e-6, 9e-6,
                       1e-5, 2e-5, 3.1623e-5, 4e-5, 5e-5, 6e-5, 7e-5, 8e-5, 9e-5,
                       1e-4, 2e-4, 3.1623e-4, 4e-4, 5e-4, 6e-4, 7e-4, 8e-4, 9e-4,
                       1e-3, 2e-3, 3e-3, 4e-3, 5e-3, 6e-3, 7e-3, 8e-3, 9e-3, 1e-2],
            "labelExpr": "abs(log(datum.value)/LN10 - floor(log(datum.value)/LN10) - 0.5) < 0.01 ? ['A','B','C','M','X'][floor(log(datum.value)/LN10) + 8] : ''",
            "labelPadding": 14,
            "tickSize": {"condition": {"test": "abs(log(datum.value)/LN10 - floor(log(datum.value)/LN10) - 0.5) < 0.01", "value": -9}, "value": -6},
            "grid": false
          }
        },
        "text": {"field": "note"}
      }
    }
  ],
  "resolve": {"scale": {"y": "independent"}, "axis": {"y": "independent"}}
}
